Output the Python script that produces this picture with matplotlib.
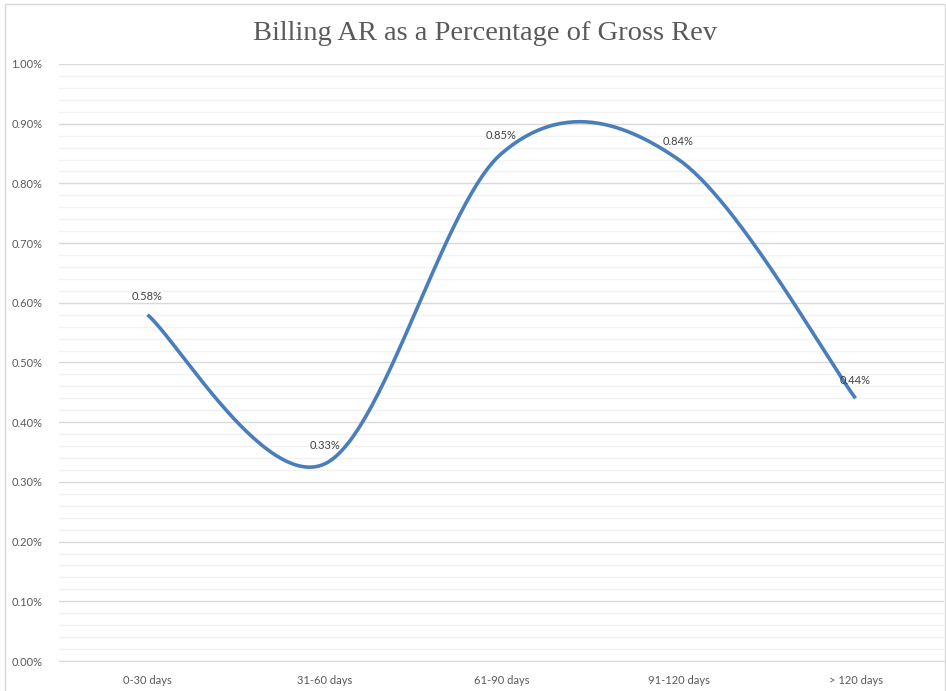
import numpy as np
import matplotlib.pyplot as plt
from matplotlib.patches import Rectangle
from matplotlib.ticker import MultipleLocator, FuncFormatter

categories = ['0-30 days', '31-60 days', '61-90 days', '91-120 days', '> 120 days']
ar_pct = [0.58, 0.33, 0.85, 0.84, 0.44]

plt.rcParams['font.family'] = ['Lato', 'DejaVu Sans']


def smooth_line(ys, n=60):
    # Catmull-Rom style Bezier smoothing, like a spreadsheet "smoothed line"
    ys = np.asarray(ys, dtype=float)
    xs = np.arange(len(ys), dtype=float)
    pts = np.column_stack([xs, ys])
    ext = np.vstack([pts[0], pts, pts[-1]])
    out = []
    for i in range(len(pts) - 1):
        p0, p1, p2, p3 = ext[i], ext[i + 1], ext[i + 2], ext[i + 3]
        c1 = p1 + (p2 - p0) / 6
        c2 = p2 - (p3 - p1) / 6
        t = np.linspace(0, 1, n)[:, None]
        seg = ((1 - t) ** 3 * p1 + 3 * (1 - t) ** 2 * t * c1
               + 3 * (1 - t) * t ** 2 * c2 + t ** 3 * p2)
        out.append(seg if i == 0 else seg[1:])
    out = np.vstack(out)
    return out[:, 0], out[:, 1]


fig = plt.figure(figsize=(9.46, 6.91), dpi=100)
fig.patches.append(Rectangle((5 / 946, -0.01), 940 / 946, 1 - 4 / 691 + 0.01,
                             transform=fig.transFigure, fill=False,
                             edgecolor='#d9d9d9', linewidth=1))
ax = fig.add_axes([59 / 946, 30 / 691, 885 / 946, 597 / 691])

x = np.arange(len(categories))
sx, sy = smooth_line(ar_pct)
ax.plot(sx, sy, color='#4a7ebb', linewidth=2.6, solid_capstyle='butt', zorder=3)

for xi, v in zip(x, ar_pct):
    ax.annotate(f'{v:.2f}%', (xi, v), xytext=(0, 9), textcoords='offset points',
                ha='center', va='bottom', fontsize=8, color='#404040', zorder=4)

ax.set_xlim(-0.5, len(categories) - 0.5)
ax.set_ylim(0, 1.0)
ax.set_xticks(x)
ax.set_xticklabels(categories)
ax.yaxis.set_major_locator(MultipleLocator(0.1))
ax.yaxis.set_minor_locator(MultipleLocator(0.02))
ax.yaxis.set_major_formatter(FuncFormatter(lambda v, p: f'{v:.2f}%'))
ax.grid(which='major', axis='y', color='#d9d9d9', linewidth=1)
ax.grid(which='minor', axis='y', color='#f2f2f2', linewidth=1)
ax.set_axisbelow(True)
ax.tick_params(axis='both', which='both', length=0, labelsize=8, labelcolor='#595959')
ax.tick_params(axis='y', pad=12)
ax.tick_params(axis='x', pad=10)
for side in ['top', 'right', 'left']:
    ax.spines[side].set_visible(False)
ax.spines['bottom'].set_color('#d9d9d9')

fig.text(485 / 946, 1 - 34 / 691, 'Billing AR as a Percentage of Gross Rev',
         ha='center', va='center', fontsize=20.5, color='#595959',
         family=['Liberation Serif', 'DejaVu Serif'])

fig.savefig('out.png', dpi=100)
